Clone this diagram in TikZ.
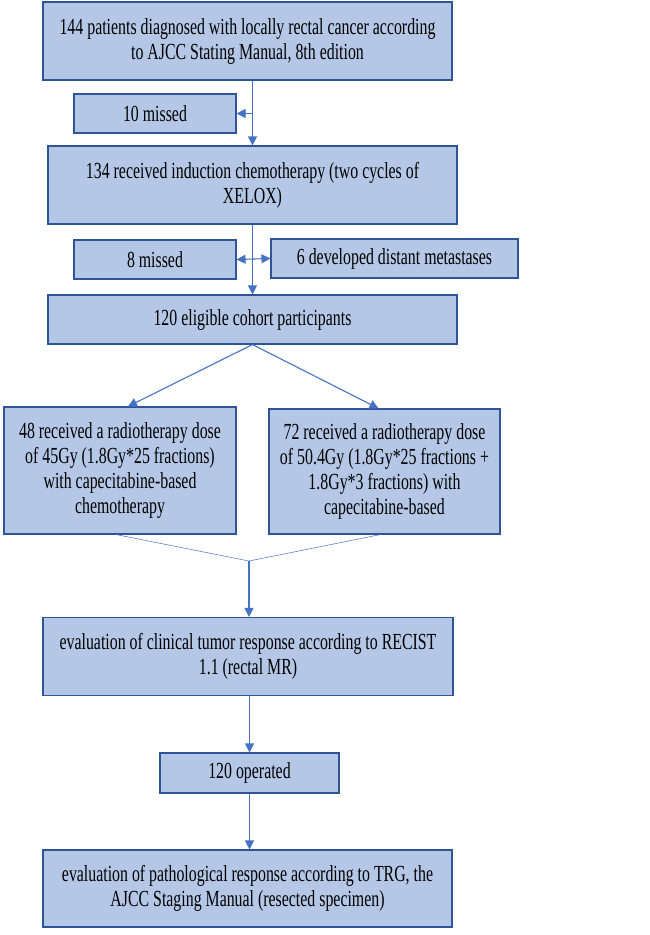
\documentclass[tikz,border=0pt]{standalone}
\usepackage{fontspec}
\setmainfont{Liberation Serif}[FakeStretch=0.69]
\usepackage{xcolor}
\usetikzlibrary{arrows.meta}
\definecolor{boxfill}{HTML}{B4C7E7}
\definecolor{boxline}{HTML}{2F5597}
\definecolor{arrline}{HTML}{4472C4}
\tikzset{
  flowbox/.style={draw=boxline,fill=boxfill,line width=1.1pt,inner sep=0pt,align=flush center,
    font=\fontsize{23}{25}\selectfont},
  arr/.style={draw=arrline,line width=1.1pt,-{Triangle[width=9pt,length=9pt]}},
  twoarr/.style={draw=arrline,line width=1.1pt,{Triangle[width=9pt,length=9pt]}-{Triangle[width=9pt,length=9pt]}},
  mergeline/.style={draw=arrline,line width=0.5pt}
}
\begin{document}
\begin{tikzpicture}[x=1pt,y=-1pt]
  \useasboundingbox (0,0) rectangle (649,935);
  % boxes
  \node (b1) at (247.5,41) [flowbox,minimum width=409pt,minimum height=78pt,text width=405pt]
    {144 patients diagnosed with locally rectal cancer according\\to AJCC Stating Manual, 8th edition};
  \node (m1) at (155,113.5) [flowbox,minimum width=162pt,minimum height=39pt,text width=150pt] {10 missed};
  \node (b2) at (252.5,185) [flowbox,minimum width=409pt,minimum height=78pt,text width=405pt]
    {134 received induction chemotherapy (two cycles of\\XELOX)};
  \node (m2) at (155,259.5) [flowbox,minimum width=162pt,minimum height=39pt,text width=150pt] {8 missed};
  \node (m3) at (394.5,258.5) [flowbox,minimum width=247pt,minimum height=39pt,text width=240pt] {6 developed distant metastases};
  \node (b3) at (252.5,319.5) [flowbox,minimum width=409pt,minimum height=49pt,text width=405pt] {120 eligible cohort participants};
  \node (r1) at (120,470.5) [flowbox,minimum width=232pt,minimum height=127pt,text width=228pt]
    {48 received a radiotherapy dose\\of 45Gy (1.8Gy*25 fractions)\\with capecitabine-based\\chemotherapy};
  \node (r2) at (384.5,471.5) [flowbox,minimum width=231pt,minimum height=125pt,text width=228pt]
    {72 received a radiotherapy dose\\of 50.4Gy (1.8Gy*25 fractions +\\1.8Gy*3 fractions) with\\capecitabine-based};
  \node (b4) at (248,656.5) [flowbox,minimum width=410pt,minimum height=78pt,text width=405pt]
    {evaluation of clinical tumor response according to RECIST\\1.1 (rectal MR)};
  \node (op) at (249.5,773) [flowbox,minimum width=179pt,minimum height=40pt,text width=170pt] {120 operated};
  \node (b5) at (247.5,888.5) [flowbox,minimum width=409pt,minimum height=77pt,text width=405pt]
    {evaluation of pathological response according to TRG, the\\AJCC Staging Manual (resected specimen)};
  \coordinate (mg) at (249,561);
  % connectors
  \draw[arr] (b1.south -| b2.north) -- (b2.north);
  \draw[arr] (b2.north |- m1.east) -- (m1.east);
  \draw[arr] (b2.south) -- (b3.north);
  \draw[twoarr] (m2.east) -- (m3.west);
  \draw[arr] (b3.south) -- ([xshift=8pt]r1.north);
  \draw[arr] (b3.south) -- ([xshift=-6pt]r2.north);
  \draw[mergeline] ([xshift=-4pt]r1.south) -- (mg);
  \draw[mergeline] ([xshift=-4pt]r2.south) -- (mg);
  \draw[arr] (mg) -- (mg |- b4.north);
  \draw[arr] (b4.south -| op.north) -- (op.north);
  \draw[arr] (op.south) -- (op.south |- b5.north);
\end{tikzpicture}
\end{document}
